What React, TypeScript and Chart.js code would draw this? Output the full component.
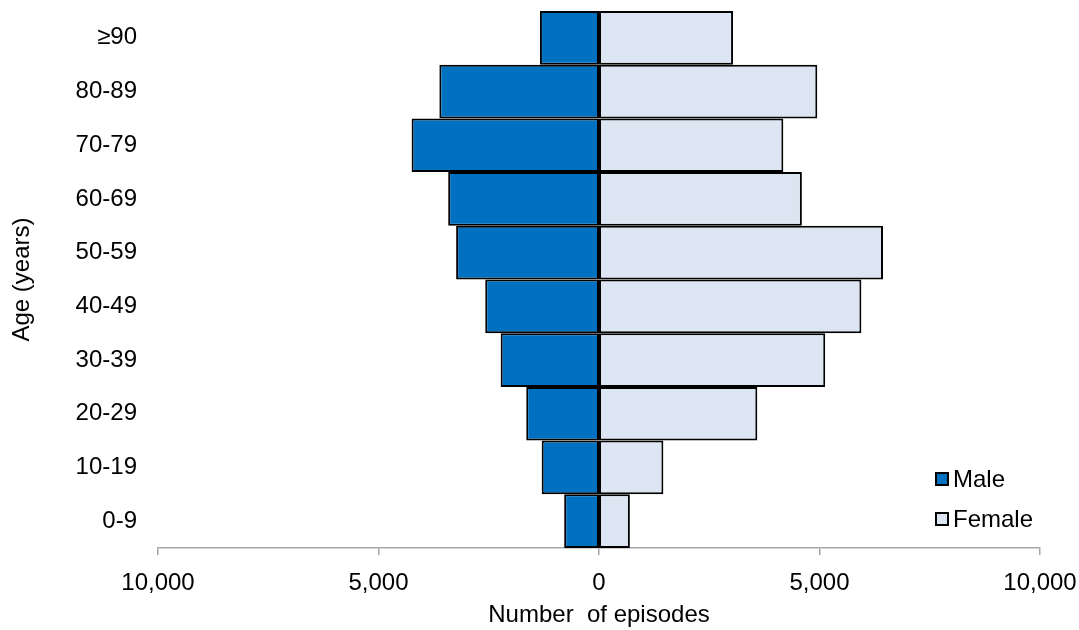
import React, { useEffect, useRef } from "react";
import { Chart, registerables } from "chart.js";

Chart.register(...registerables);

// Age bands, bottom to top
const ageGroups = ["0-9", "10-19", "20-29", "30-39", "40-49", "50-59", "60-69", "70-79", "80-89", "≥90"];
// Episode counts per age band
const maleEpisodes = [790, 1300, 1650, 2230, 2580, 3240, 3420, 4250, 3620, 1340];
const femaleEpisodes = [700, 1460, 3590, 5130, 5950, 6440, 4600, 4180, 4950, 3040];
// Horizontal axis ticks (absolute values shown on both sides)
const xTicks = [-10000, -5000, 0, 5000, 10000];

const FONT = '"Liberation Sans", Arial, sans-serif';
const TEXT_SIZE = 24;

// Legend drawn in the lower-right corner of the plot area
const cornerLegend = {
  id: "cornerLegend",
  afterDatasetsDraw(chart: any) {
    const { ctx, chartArea } = chart;
    const rows = chart.data.datasets;
    ctx.save();
    ctx.font = `${TEXT_SIZE}px ${FONT}`;
    ctx.textBaseline = "middle";
    ctx.textAlign = "left";
    rows.forEach((ds: any, i: number) => {
      const cy = chartArea.bottom - 69 + i * 40;
      const bx = chartArea.right - 104;
      ctx.fillStyle = ds.backgroundColor;
      ctx.fillRect(bx, cy - 6, 12, 12);
      ctx.lineWidth = 2;
      ctx.strokeStyle = "#000";
      ctx.strokeRect(bx, cy - 6, 12, 12);
      ctx.fillStyle = "#000";
      ctx.fillText(ds.label, bx + 17, cy + 1);
    });
    ctx.restore();
  },
};

export default function App() {
  const canvasRef = useRef<HTMLCanvasElement | null>(null);

  useEffect(() => {
    if (!canvasRef.current) return;
    const chart = new Chart(canvasRef.current, {
      type: "bar",
      data: {
        labels: ageGroups,
        datasets: [
          {
            label: "Male",
            data: maleEpisodes.map((v) => -v),
            backgroundColor: "#0070c0",
            borderColor: "#000",
            borderWidth: 2,
            borderSkipped: false,
            inflateAmount: 0,
            barPercentage: 1,
            categoryPercentage: 1,
          },
          {
            label: "Female",
            data: femaleEpisodes,
            backgroundColor: "#dce6f2",
            borderColor: "#000",
            borderWidth: 2,
            borderSkipped: false,
            inflateAmount: 0,
            barPercentage: 1,
            categoryPercentage: 1,
          },
        ],
      },
      options: {
        indexAxis: "y",
        responsive: false,
        animation: false,
        layout: { padding: { top: 11, right: 39, left: 0, bottom: 0 } },
        plugins: {
          legend: { display: false },
          tooltip: { enabled: false },
        },
        scales: {
          x: {
            type: "linear",
            stacked: true,
            min: -10000,
            max: 10000,
            afterBuildTicks: (scale: any) => {
              scale.ticks = xTicks.map((v) => ({ value: v }));
            },
            afterFit: (scale: any) => {
              scale.height = 82;
              scale.paddingLeft = 0;
              scale.paddingRight = 0;
              // bars meet exactly at zero instead of leaving room for a gridline
              scale.getLineWidthForValue = () => 0;
            },
            ticks: {
              font: { family: FONT, size: TEXT_SIZE },
              color: "#000",
              padding: 14,
              maxRotation: 0,
              callback: (v: any) => Math.abs(Number(v)).toLocaleString("en-US"),
            },
            grid: {
              drawOnChartArea: false,
              drawTicks: true,
              tickLength: 7,
              color: "#a6a6a6",
              lineWidth: 1.5,
            },
            border: { color: "#a6a6a6", width: 1.5 },
            title: {
              display: true,
              text: "Number  of episodes",
              font: { family: FONT, size: TEXT_SIZE },
              color: "#000",
              padding: { top: 0, bottom: 0 },
            },
          },
          y: {
            type: "category",
            stacked: true,
            reverse: true,
            afterFit: (scale: any) => {
              scale.width = 158;
              scale.paddingTop = 0;
              scale.paddingBottom = 0;
            },
            ticks: {
              font: { family: FONT, size: TEXT_SIZE },
              color: "#000",
              padding: 21,
            },
            grid: { display: false, drawTicks: false, tickLength: 0 },
            border: { display: false },
            title: {
              display: true,
              text: "Age (years)",
              font: { family: FONT, size: TEXT_SIZE },
              color: "#000",
              padding: { top: 8, bottom: 0 },
            },
          },
        },
      },
      plugins: [cornerLegend],
    });
    return () => chart.destroy();
  }, []);

  return (
    <div style={{ position: "fixed", left: 0, top: 0, width: 1079, height: 630, background: "#fff" }}>
      <canvas ref={canvasRef} width={1079} height={630} />
    </div>
  );
}
